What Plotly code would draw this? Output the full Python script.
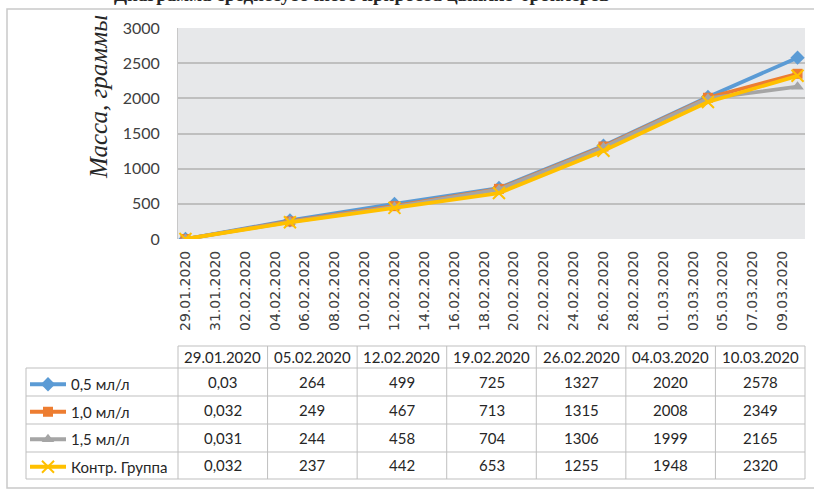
import plotly.graph_objects as go
from datetime import datetime

# ---- data ---------------------------------------------------------------
dates = ["2020-01-29", "2020-02-05", "2020-02-12", "2020-02-19",
         "2020-02-26", "2020-03-04", "2020-03-10"]
series_names = ["0,5 мл/л", "1,0 мл/л", "1,5 мл/л", "Контр. Группа"]
mass_05 = [0.03, 264, 499, 725, 1327, 2020, 2578]
mass_10 = [0.032, 249, 467, 713, 1315, 2008, 2349]
mass_15 = [0.031, 244, 458, 704, 1306, 1999, 2165]
mass_ctrl = [0.032, 237, 442, 653, 1255, 1948, 2320]
y_ticks = [0, 500, 1000, 1500, 2000, 2500, 3000]

title_text = "Диаграмма среднесуточного прироста цыплят-бройлеров"
y_title = "Масса, граммы"

# ---- styling --------------------------------------------------------------
colors = ["#5B9BD5", "#ED7D31", "#A5A5A5", "#FFC000"]
symbols = ["diamond", "square", "triangle-up", "x-thin"]
msizes = [11, 10, 11, 12]

W, H = 814, 493
PL, PR, PT, PB = 178, 805, 28, 239          # plot area in pixels
GRID = "#BFBFBF"
TXT = "#262626"


def fx(px):
    return (px - PL) / (PR - PL)


def fy(py):
    return (PB - py) / (PB - PT)


all_series = [mass_05, mass_10, mass_15, mass_ctrl]

fig = go.Figure()
for i, (name, vals) in enumerate(zip(series_names, all_series)):
    marker = dict(symbol=symbols[i], size=msizes[i], color=colors[i])
    if symbols[i] == "x-thin":
        marker["line"] = dict(color=colors[i], width=2)
    fig.add_trace(go.Scatter(
        x=dates, y=vals, name=name, mode="lines+markers",
        line=dict(color=colors[i], width=3.8),
        marker=marker, legendgroup=f"g{i}",
    ))

# ---- data table under the chart -----------------------------------------
row_lines = [346, 368, 396, 424, 452, 479]
n_cols = len(dates)
label_left = 26
shapes = []
line_style = dict(color=GRID, width=1)

# horizontal rules
shapes.append(dict(type="line", xref="paper", yref="paper",
                   x0=0, x1=1, y0=fy(row_lines[0]), y1=fy(row_lines[0]),
                   line=line_style))
for yy in row_lines[1:]:
    shapes.append(dict(type="line", xref="paper", yref="paper",
                       x0=fx(label_left), x1=1, y0=fy(yy), y1=fy(yy),
                       line=line_style))
# vertical rules
for c in range(n_cols + 1):
    xc = c / n_cols
    shapes.append(dict(type="line", xref="paper", yref="paper",
                       x0=xc, x1=xc, y0=fy(row_lines[0]), y1=fy(row_lines[-1]),
                       line=line_style))
shapes.append(dict(type="line", xref="paper", yref="paper",
                   x0=fx(label_left), x1=fx(label_left),
                   y0=fy(row_lines[1]), y1=fy(row_lines[-1]), line=line_style))

# outer chart frame
shapes.append(dict(type="rect", xref="paper", yref="paper",
                   x0=fx(7), x1=fx(840), y0=fy(9), y1=fy(488),
                   line=dict(color="#C9C9C9", width=1.5), layer="below"))

annotations = []
cell_font = dict(family="Lato", size=15, color=TXT)
for c, d in enumerate(dates):
    label = datetime.strptime(d, "%Y-%m-%d").strftime("%d.%m.%Y")
    annotations.append(dict(
        xref="paper", yref="paper", x=(c + 0.5) / n_cols,
        y=fy((row_lines[0] + row_lines[1]) / 2), text=label,
        showarrow=False, font=cell_font, xanchor="center", yanchor="middle"))
for r, vals in enumerate(all_series):
    yc = fy((row_lines[r + 1] + row_lines[r + 2]) / 2)
    for c, v in enumerate(vals):
        annotations.append(dict(
            xref="paper", yref="paper", x=(c + 0.5) / n_cols, y=yc,
            text=f"{v:g}".replace(".", ","), showarrow=False,
            font=cell_font, xanchor="center", yanchor="middle"))

# axis title and chart title
annotations.append(dict(
    xref="paper", yref="paper", x=fx(98), y=fy(97), text=y_title,
    textangle=-90, showarrow=False, xanchor="center", yanchor="middle",
    font=dict(family="Liberation Serif", size=25, color=TXT, style="italic")))
annotations.append(dict(
    xref="paper", yref="paper", x=fx(362), y=1, yanchor="bottom",
    yshift=21, text=title_text, showarrow=False, xanchor="center",
    font=dict(family="Liberation Serif", size=19, color=TXT, weight="bold")))

fig.update_layout(
    width=W, height=H,
    margin=dict(l=PL, r=W - PR, t=PT, b=H - PB, pad=0),
    paper_bgcolor="white", plot_bgcolor="#E7E8EA",
    showlegend=True,
    legend=dict(x=fx(25), y=fy(368), xanchor="left", yanchor="top",
                font=dict(family="Lato", size=15, color=TXT),
                bgcolor="rgba(0,0,0,0)", tracegroupgap=5,
                traceorder="grouped", itemwidth=36),
    shapes=shapes, annotations=annotations,
)
fig.update_xaxes(
    type="date", range=["2020-01-28 12:00", "2020-03-10 12:00"],
    tick0="2020-01-29", dtick=2 * 86400000, tickformat="%d.%m.%Y",
    tickangle=-90, showgrid=False, ticks="", ticklabelstandoff=8,
    tickfont=dict(family="DejaVu Sans", size=14, color="#404040"),
    showline=False, zeroline=False,
)
fig.update_yaxes(
    range=[0, 3000], tickvals=y_ticks, showgrid=True, gridcolor=GRID,
    gridwidth=1.5, zeroline=False, showline=True, linecolor="#C8C8C8",
    linewidth=1, ticks="", ticklabelstandoff=14,
    tickfont=dict(family="Lato", size=16, color="#404040"),
)

fig.write_html("out.html")
